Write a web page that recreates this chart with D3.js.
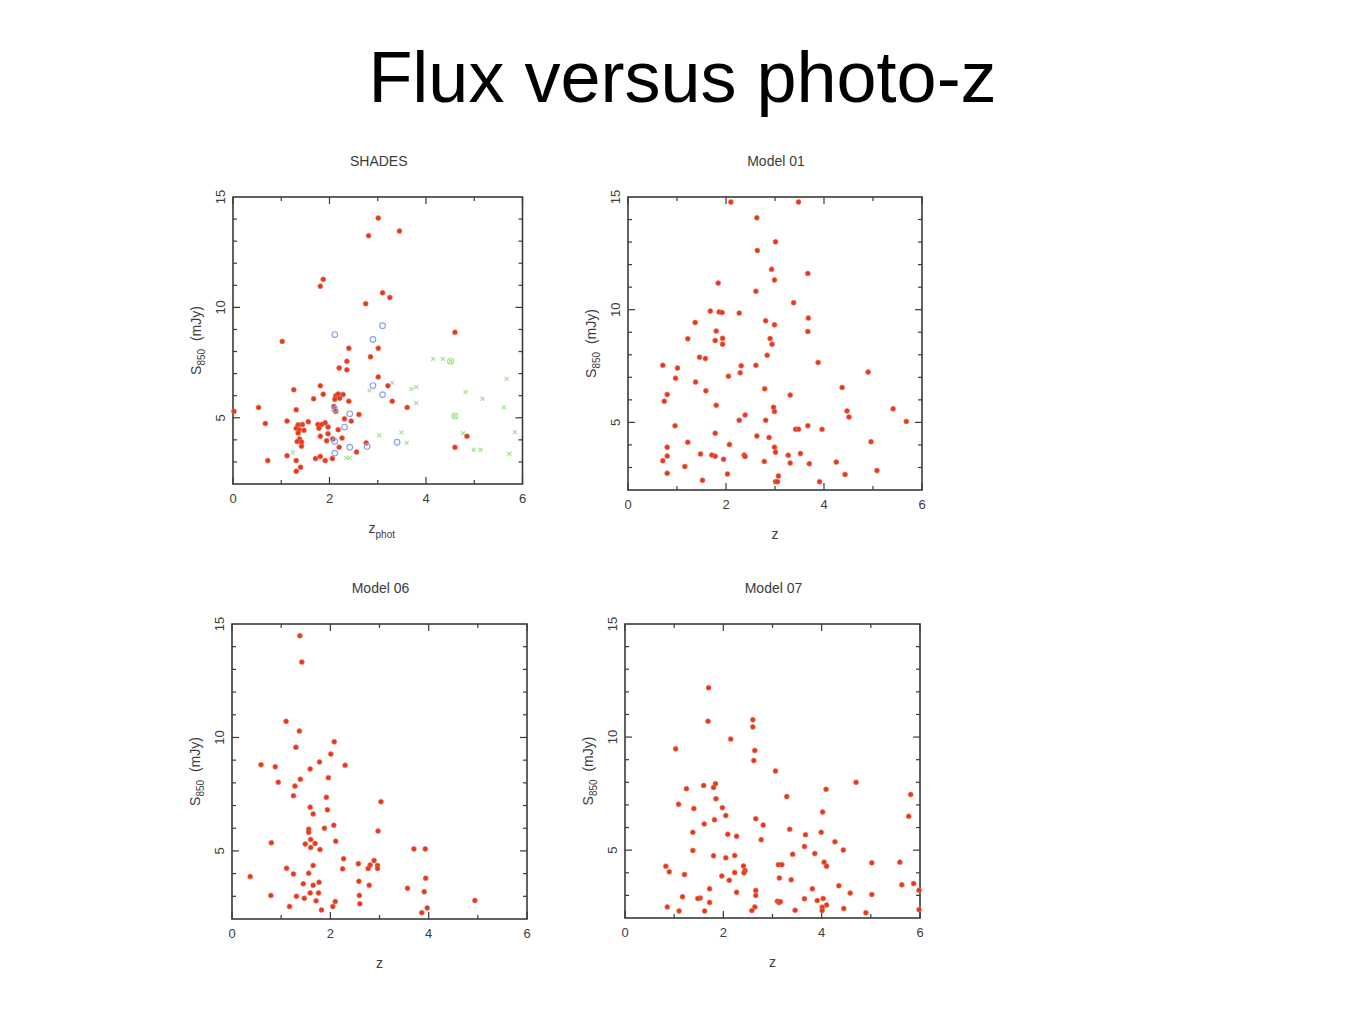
<!DOCTYPE html>
<html>
<head>
<meta charset="utf-8">
<script src="https://cdn.jsdelivr.net/npm/d3@7"></script>
<style>
  html, body { margin: 0; padding: 0; background: #fff; }
  svg { display: block; }
</style>
</head>
<body>
<svg id="chart" width="1365" height="1024"></svg>
<script>
// ---------------- DATA ----------------
const chartTitle = "Flux versus photo-z";
const panelTitles = ["SHADES", "Model 01", "Model 06", "Model 07"];
const xTickValues = [0, 2, 4, 6];
const yTickValues = [5, 10, 15];
const xDomain = [0, 6];
const yDomain = [2, 15];

// SHADES: red = filled points, blue = open circles, green = faint markers  [z, S850]
const shadesRed = [
  [3.01,14.05],[2.81,13.25],[3.45,13.46],[1.87,11.27],[1.81,10.96],[3.10,10.66],[3.25,10.45],
  [2.75,10.17],[1.02,8.46],[4.60,8.87],[2.40,8.15],[3.01,8.15],[2.85,7.76],[2.36,7.56],
  [2.36,7.17],[2.20,7.26],[3.01,6.85],[1.26,6.27],[1.81,6.45],[3.21,6.45],[1.87,6.07],
  [2.13,6.00],[2.18,6.08],[2.28,6.05],[2.11,5.84],[2.21,5.88],[1.67,5.86],[3.30,5.75],
  [2.40,5.75],[0.53,5.47],[3.61,5.47],[0.02,5.29],[1.31,5.36],[2.09,5.51],[2.13,5.29],
  [2.61,5.15],[2.31,4.95],[2.45,4.85],[1.12,4.85],[0.67,4.74],[1.56,4.82],
  [1.35,4.68],[1.44,4.70],[1.31,4.52],[1.37,4.46],[1.47,4.43],[1.35,4.31],[1.38,4.04],
  [1.33,3.93],[1.42,3.90],[1.42,3.71],
  [1.76,4.70],[1.84,4.70],[1.91,4.77],[1.78,4.53],[1.97,4.58],[2.18,4.46],[1.81,4.16],
  [1.97,4.28],[1.94,3.96],[2.07,4.04],[2.26,4.08],[2.20,3.67],
  [2.76,3.86],[4.85,4.16],[4.60,3.66],[2.56,3.45],[1.12,3.28],[1.31,3.06],[0.72,3.06],
  [1.71,3.15],[1.81,3.25],[1.91,3.06],[2.06,3.15],[1.31,2.58],[1.40,2.76]
];
const shadesBlue = [
  [2.11,8.77],[3.10,9.17],[2.90,8.55],[2.90,6.46],[3.10,6.05],[2.11,5.39],[2.42,5.18],
  [2.31,4.58],[2.11,3.93],[2.42,3.67],[2.11,3.40],[3.40,3.89],[2.78,3.70]
];
const shadesGreen = [
  [4.15,7.67],[4.35,7.67],[4.51,7.56],[3.30,6.58],[3.70,6.30],[3.80,6.39],[3.80,5.66],
  [2.83,6.24],[5.67,6.76],[4.82,6.16],[5.17,5.86],[5.61,5.47],[4.60,5.08],[5.84,4.35],
  [3.49,4.34],[3.60,3.86],[3.03,4.20],[4.77,4.30],[4.99,3.55],[5.13,3.55],[5.73,3.37],
  [2.35,3.18],[2.42,3.18],[1.24,3.43]
];
const shadesGreenOpen = [[4.51,7.56],[4.60,5.08]];

const model01 = [
  [2.10,14.78],[3.48,14.78],[2.63,14.08],[2.64,12.63],[3.01,13.01],[2.93,11.79],[3.67,11.61],
  [2.99,11.32],[1.84,11.18],[2.61,10.82],[3.38,10.31],[1.68,9.94],[1.86,9.90],[1.92,9.88],
  [2.27,9.85],[1.37,9.43],[2.81,9.51],[2.99,9.33],[3.68,9.63],[3.67,9.03],[1.80,9.05],
  [1.22,8.71],[1.78,8.63],[1.93,8.73],[1.93,8.47],[2.90,8.72],[2.94,8.47],[2.84,7.98],
  [1.46,7.89],[1.58,7.83],[3.88,7.66],[0.71,7.53],[1.01,7.41],[2.31,7.51],[2.61,7.53],
  [2.29,7.20],[2.05,7.05],[4.90,7.23],[0.97,6.96],[1.38,6.79],[1.59,6.40],[2.79,6.49],
  [4.37,6.55],[0.80,6.24],[3.31,6.21],[0.74,5.94],[1.80,5.76],[2.97,5.67],[2.99,5.48],
  [4.47,5.51],[4.51,5.24],[5.41,5.60],[2.39,5.33],[2.27,5.09],[2.81,5.09],[5.68,5.04],
  [0.96,4.85],[3.42,4.70],[3.48,4.70],[3.67,4.85],[3.96,4.69],[1.78,4.52],[2.63,4.40],
  [2.88,4.33],[1.22,4.12],[4.96,4.14],[2.07,4.02],[0.80,3.90],[2.99,3.90],[3.01,3.68],
  [0.80,3.51],[1.48,3.60],[1.71,3.55],[1.78,3.50],[2.37,3.55],[2.39,3.49],[3.52,3.62],
  [3.27,3.54],[0.71,3.30],[1.95,3.36],[2.78,3.27],[3.31,3.20],[3.70,3.17],[4.25,3.24],
  [1.16,3.04],[0.80,2.74],[2.03,2.71],[4.43,2.69],[5.08,2.86],[3.07,2.62],[1.52,2.43],
  [3.01,2.37],[3.05,2.37],[3.91,2.37]
];

const model06 = [
  [1.38,14.48],[1.42,13.32],[1.10,10.71],[1.37,10.28],[1.30,9.57],[2.08,9.81],[2.01,9.27],
  [0.59,8.80],[0.88,8.71],[1.78,8.92],[2.30,8.77],[1.59,8.61],[1.96,8.23],[1.39,8.16],
  [0.94,8.03],[1.28,7.86],[1.25,7.43],[1.92,7.36],[3.03,7.17],[1.59,6.93],[1.94,6.81],
  [1.65,6.63],[2.07,6.13],[1.88,6.00],[1.56,5.96],[1.56,5.82],[2.97,5.88],[1.60,5.50],
  [2.11,5.43],[0.80,5.36],[1.49,5.30],[1.69,5.33],[1.60,5.15],[1.79,5.06],[3.70,5.09],
  [3.93,5.09],[2.27,4.66],[2.89,4.58],[2.57,4.44],[2.81,4.38],[2.77,4.23],[2.96,4.36],
  [2.96,4.23],[1.65,4.36],[1.11,4.24],[2.25,4.21],[1.25,3.98],[1.56,4.02],[0.37,3.87],
  [3.94,3.80],[2.58,3.66],[1.45,3.55],[1.77,3.62],[1.65,3.49],[2.79,3.49],[3.57,3.35],
  [3.91,3.20],[1.59,3.15],[1.76,3.15],[0.79,3.04],[1.31,3.00],[2.59,3.04],[1.47,2.91],
  [1.71,2.80],[2.10,2.77],[4.94,2.82],[2.60,2.67],[1.17,2.55],[2.05,2.55],[1.82,2.40],
  [3.97,2.49],[3.86,2.28]
];

const model07 = [
  [1.70,12.18],[1.69,10.70],[2.60,10.77],[2.60,10.45],[2.15,9.91],[1.03,9.48],[2.64,9.41],
  [2.62,8.96],[3.06,8.50],[4.70,8.00],[1.84,7.94],[1.80,7.77],[1.60,7.86],[1.25,7.72],
  [4.09,7.69],[5.81,7.46],[3.29,7.37],[1.85,7.27],[1.09,7.03],[1.98,6.88],[1.40,6.84],
  [5.77,6.50],[4.02,6.69],[2.05,6.53],[1.82,6.34],[2.66,6.39],[1.61,6.16],[2.81,6.11],
  [3.35,5.92],[1.38,5.79],[2.09,5.70],[2.27,5.61],[3.67,5.68],[3.99,5.79],[2.77,5.46],
  [4.27,5.37],[3.65,5.16],[1.38,4.99],[4.44,5.01],[3.86,4.85],[3.41,4.82],[1.80,4.75],
  [2.23,4.76],[2.05,4.66],[4.05,4.47],[4.10,4.29],[5.02,4.44],[5.59,4.47],[0.83,4.29],
  [3.12,4.36],[3.19,4.36],[2.41,4.30],[2.44,4.10],[2.42,4.00],[0.90,4.04],[2.23,4.01],
  [1.21,3.92],[1.97,3.86],[3.14,3.77],[2.12,3.67],[3.38,3.69],[4.35,3.43],[5.63,3.47],
  [5.87,3.52],[1.72,3.29],[3.81,3.29],[5.98,3.23],[2.27,3.14],[2.66,3.22],[2.66,3.00],
  [4.58,3.10],[5.02,3.04],[1.17,2.94],[1.53,2.88],[1.48,2.86],[3.65,2.85],[4.03,2.86],
  [3.91,2.77],[3.10,2.74],[3.13,2.68],[3.16,2.72],[1.72,2.69],[4.10,2.58],[2.64,2.49],
  [0.86,2.49],[4.01,2.48],[4.01,2.33],[4.45,2.42],[5.98,2.37],[1.10,2.31],[1.62,2.31],
  [2.58,2.33],[3.46,2.34],[4.90,2.23]
];

// ---------------- DRAWING ----------------
const svg = d3.select("#chart");
const RED = "#e4381f";
const AXIS = "#3a3a3a";
const TXT = "#3c3c3c";

svg.append("text")
  .attr("x", 682.5).attr("y", 101.5)
  .attr("text-anchor", "middle")
  .attr("font-family", "Liberation Sans, Arial, sans-serif")
  .attr("font-size", 72)
  .attr("fill", "#000")
  .text(chartTitle);

const panels = [
  { title: panelTitles[0], box: {l: 233, r: 522.5, t: 197, b: 484}, xlabel: "phot", red: shadesRed, blue: shadesBlue, green: shadesGreen, greenOpen: shadesGreenOpen },
  { title: panelTitles[1], box: {l: 628, r: 922, t: 197, b: 490}, xlabel: null, red: model01 },
  { title: panelTitles[2], box: {l: 232, r: 527, t: 624, b: 919}, xlabel: null, red: model06 },
  { title: panelTitles[3], box: {l: 625, r: 920, t: 624, b: 918}, xlabel: null, red: model07 }
];

panels.forEach(p => {
  const {l, r, t, b} = p.box;
  const x = d3.scaleLinear().domain(xDomain).range([l, r]);
  const y = d3.scaleLinear().domain(yDomain).range([b, t]);
  const g = svg.append("g");
  const font = "Liberation Sans, Arial, sans-serif";

  // panel title
  g.append("text")
    .attr("x", (l + r) / 2 + 1).attr("y", t - 31)
    .attr("text-anchor", "middle")
    .attr("font-family", font).attr("font-size", 14)
    .attr("fill", TXT).text(p.title);

  // ticks (inward, all four sides)
  const xt = d3.range(xDomain[0], xDomain[1] + 0.001, 1);
  const yt = d3.range(3, 15, 1);
  const tk = g.append("g").attr("stroke", AXIS).attr("stroke-width", 1.2);
  xt.forEach(v => {
    const len = (v % 2 === 0) ? 7 : 4;
    tk.append("line").attr("x1", x(v)).attr("x2", x(v)).attr("y1", b).attr("y2", b - len);
    tk.append("line").attr("x1", x(v)).attr("x2", x(v)).attr("y1", t).attr("y2", t + len);
  });
  yt.forEach(v => {
    const len = (v % 5 === 0) ? 7 : 4;
    tk.append("line").attr("x1", l).attr("x2", l + len).attr("y1", y(v)).attr("y2", y(v));
    tk.append("line").attr("x1", r).attr("x2", r - len).attr("y1", y(v)).attr("y2", y(v));
  });

  // frame
  g.append("rect")
    .attr("x", l).attr("y", t).attr("width", r - l).attr("height", b - t)
    .attr("fill", "none").attr("stroke", AXIS).attr("stroke-width", 1.6);

  // x tick labels
  g.selectAll(".xl").data(xTickValues).enter().append("text")
    .attr("x", d => x(d)).attr("y", b + 19)
    .attr("text-anchor", "middle")
    .attr("font-family", font).attr("font-size", 13)
    .attr("fill", TXT).text(d => d);

  // y tick labels (rotated)
  g.selectAll(".yl").data(yTickValues).enter().append("text")
    .attr("transform", d => `translate(${l - 8},${y(d)}) rotate(-90)`)
    .attr("text-anchor", "middle")
    .attr("font-family", font).attr("font-size", 13)
    .attr("fill", TXT).text(d => d);

  // y axis label S850 (mJy)
  const yl = g.append("text")
    .attr("transform", `translate(${l - 32},${(t + b) / 2}) rotate(-90)`)
    .attr("text-anchor", "middle")
    .attr("font-family", font).attr("font-size", 14)
    .attr("fill", TXT);
  yl.append("tspan").text("S");
  yl.append("tspan").attr("font-size", 10).attr("dy", 4).text("850");
  yl.append("tspan").attr("dy", -4).text("\u00a0\u00a0(mJy)");

  // x axis label
  const xl = g.append("text")
    .attr("x", (l + r) / 2 + (p.xlabel ? 4 : 0)).attr("y", b + 49)
    .attr("text-anchor", "middle")
    .attr("font-family", font).attr("font-size", 14)
    .attr("fill", TXT);
  xl.append("tspan").text("z");
  if (p.xlabel) xl.append("tspan").attr("font-size", 10).attr("dy", 5).text(p.xlabel);

  // points
  if (p.green) {
    g.selectAll(".gp").data(p.green).enter().append("path")
      .attr("d", d => {
        const cx = x(d[0]), cy = y(d[1]), s = 2;
        return `M${cx - s},${cy - s}L${cx + s},${cy + s}M${cx - s},${cy + s}L${cx + s},${cy - s}`;
      })
      .attr("stroke", "#a6e196").attr("stroke-width", 1.2).attr("fill", "none");
    g.selectAll(".go").data(p.greenOpen).enter().append("circle")
      .attr("cx", d => x(d[0])).attr("cy", d => y(d[1])).attr("r", 3)
      .attr("fill", "none").attr("stroke", "#a6e196").attr("stroke-width", 1.1);
  }
  g.selectAll(".rp").data(p.red).enter().append("circle")
    .attr("cx", d => x(d[0])).attr("cy", d => y(d[1])).attr("r", 2.5)
    .attr("fill", RED).attr("stroke", "#f07a62").attr("stroke-width", 0.6);
  if (p.blue) {
    g.selectAll(".bp").data(p.blue).enter().append("circle")
      .attr("cx", d => x(d[0])).attr("cy", d => y(d[1])).attr("r", 2.8)
      .attr("fill", "none").attr("stroke", "#8aa2f2").attr("stroke-width", 1.2);
  }
});
</script>
</body>
</html>
